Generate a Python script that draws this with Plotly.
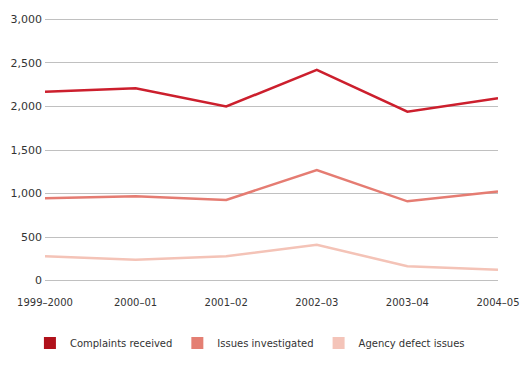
import plotly.graph_objects as go

years = ["1999–2000", "2000–01", "2001–02", "2002–03", "2003–04", "2004–05"]
complaints = [2170, 2210, 2000, 2420, 1940, 2095]
investigated = [945, 968, 926, 1270, 910, 1022]
agency = [280, 238, 280, 410, 165, 124]

series = [
    ("Complaints received", complaints, "#cc1f2d", "#b0111b"),
    ("Issues investigated", investigated, "#e57c72", "#e47f73"),
    ("Agency defect issues", agency, "#f4c3b7", "#f4c4b9"),
]

fig = go.Figure()
for name, vals, lc, sc in series:
    fig.add_trace(go.Scatter(x=years, y=vals, mode="lines", name=name,
                             line=dict(color=lc, width=2.5), showlegend=False,
                             cliponaxis=False))
for name, vals, lc, sc in series:
    fig.add_trace(go.Scatter(x=[None], y=[None], mode="markers", name=name,
                             marker=dict(symbol="square", size=12, color=sc)))

# page body has an 8px margin, so the figure is sized/offset to compensate
fig.update_layout(
    width=522, height=359,
    margin=dict(l=37, r=32, t=7.5, b=82.5, autoexpand=False),
    paper_bgcolor="white", plot_bgcolor="white",
    font=dict(family="DejaVu Sans", size=10, color="#333333"),
    xaxis=dict(type="category", range=[0, 5], showgrid=False, zeroline=False,
               showline=False, ticks="outside", ticklen=9, tickcolor="rgba(0,0,0,0)",
               tickfont=dict(size=10), automargin=False),
    yaxis=dict(range=[-40, 3040], tickvals=[0, 500, 1000, 1500, 2000, 2500, 3000],
               tickformat=",d", showgrid=True, gridcolor="#c0c0c0", gridwidth=1,
               zeroline=False, showline=False, ticks="", tickfont=dict(size=11),
               ticklabelstandoff=2, automargin=False),
    legend=dict(orientation="h", xref="container", x=0.042, xanchor="left",
                yref="container", y=0.067, yanchor="middle",
                font=dict(size=10)),
    showlegend=True,
)
fig.write_html("out.html")
